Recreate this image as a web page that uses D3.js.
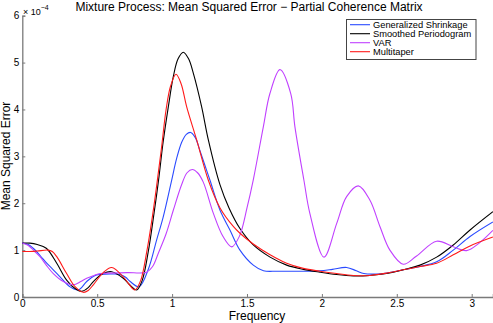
<!DOCTYPE html>
<meta charset="utf-8">
<html lang="en">
<head>
  <title>Mixture Process: Mean Squared Error</title>
  <script src="https://d3js.org/d3.v7.min.js"></script>
  <style>
    body { margin: 0; background: #fff; }
    text { font-family: "Liberation Sans", Arial, Helvetica, sans-serif; }
  </style>
</head>
<body>
<svg width="493" height="323"></svg>
<script>

// values are in units of 1e-4, pairs of [frequency, mse]
var shrinkage = [
  [0,1.15],[0.04,1.12],[0.073,1.04],[0.12,0.88],[0.163,0.72],[0.21,0.57],[0.252,0.43],
  [0.318,0.22],[0.374,0.15],[0.43,0.33],[0.48,0.45],[0.519,0.48],[0.6,0.49],[0.652,0.48],
  [0.69,0.42],[0.72,0.33],[0.78,0.22],[0.84,0.58],[0.897,1.22],[0.94,1.7],[0.997,2.49],
  [1.03,2.95],[1.064,3.3],[1.095,3.47],[1.124,3.51],[1.155,3.4],[1.186,3.12],[1.22,2.8],
  [1.253,2.49],[1.32,1.85],[1.386,1.43],[1.453,1.0],[1.542,0.68],[1.61,0.56],[1.7,0.55],
  [1.8,0.55],[1.9,0.55],[1.987,0.56],[2.07,0.59],[2.165,0.63],[2.23,0.56],[2.28,0.5],
  [2.37,0.49],[2.432,0.51],[2.543,0.58],[2.655,0.65],[2.766,0.75],[2.877,1.0],[2.989,1.29],
  [3.1416,1.6]
]

var periodogram = [
  [0,1.15],[0.05,1.15],[0.1,1.12],[0.16,1.04],[0.23,0.72],[0.296,0.36],[0.352,0.18],
  [0.396,0.12],[0.44,0.2],[0.474,0.33],[0.54,0.5],[0.597,0.54],[0.674,0.4],[0.72,0.25],
  [0.764,0.15],[0.8,0.35],[0.84,0.95],[0.88,1.8],[0.91,2.5],[0.94,3.3],[0.975,4.06],
  [1.008,4.7],[1.04,5.08],[1.075,5.22],[1.11,5.08],[1.142,4.77],[1.197,4.06],[1.242,3.35],
  [1.32,2.39],[1.38,1.9],[1.453,1.46],[1.542,1.11],[1.654,0.85],[1.765,0.68],[1.876,0.59],
  [1.987,0.53],[2.098,0.48],[2.21,0.45],[2.32,0.46],[2.432,0.5],[2.543,0.58],[2.655,0.68],
  [2.766,0.85],[2.877,1.11],[2.989,1.43],[3.1416,1.82]
]

var varModel = [
  [0,1.15],[0.04,1.1],[0.08,0.98],[0.118,0.86],[0.16,0.68],[0.207,0.5],[0.274,0.33],
  [0.341,0.26],[0.39,0.33],[0.43,0.4],[0.48,0.46],[0.519,0.5],[0.6,0.51],[0.7,0.52],
  [0.83,0.53],[0.87,0.65],[0.91,0.95],[0.96,1.35],[1.008,1.85],[1.064,2.4],[1.1,2.65],
  [1.135,2.72],[1.17,2.65],[1.208,2.45],[1.275,1.79],[1.34,1.29],[1.398,1.07],[1.45,1.3],
  [1.5,1.9],[1.542,2.5],[1.609,3.63],[1.653,4.34],[1.72,4.85],[1.792,4.34],[1.82,3.63],
  [1.88,2.49],[1.92,1.78],[2.014,0.85],[2.099,1.57],[2.165,2.14],[2.243,2.37],[2.32,2.07],
  [2.388,1.5],[2.454,1.0],[2.543,0.7],[2.63,0.87],[2.766,1.19],[2.877,1.07],[2.966,0.99],
  [3.05,1.15],[3.1416,1.42]
]

var multitaper = [
  [0,0.97],[0.05,0.97],[0.1,0.98],[0.17,1.0],[0.2,0.97],[0.23,0.86],[0.296,0.5],
  [0.352,0.22],[0.407,0.1],[0.44,0.14],[0.474,0.26],[0.54,0.52],[0.597,0.63],[0.674,0.43],
  [0.71,0.28],[0.752,0.15],[0.79,0.35],[0.83,0.95],[0.87,1.75],[0.9,2.45],[0.93,3.2],
  [0.96,4.0],[0.99,4.5],[1.026,4.75],[1.06,4.55],[1.097,4.06],[1.164,3.35],[1.242,2.49],
  [1.32,1.9],[1.41,1.5],[1.453,1.36],[1.542,1.13],[1.654,0.9],[1.765,0.72],[1.876,0.61],
  [1.987,0.55],[2.098,0.5],[2.21,0.46],[2.32,0.46],[2.432,0.51],[2.543,0.58],[2.655,0.65],
  [2.766,0.72],[2.877,0.9],[2.989,1.09],[3.1416,1.28]
]

var seriesNames = ["Generalized Shrinkage", "Smoothed Periodogram", "VAR", "Multitaper"]
var seriesColors = ["#2a4bff", "#000000", "#c040ff", "#ff1a1a"]
var xTicks = [0, 0.5, 1, 1.5, 2, 2.5, 3]
var yTicks = [0, 1, 2, 3, 4, 5, 6]

var allSeries = [shrinkage, periodogram, varModel, multitaper]

var svg = d3.select("svg")

var x = d3.scaleLinear().domain([0, Math.PI]).range([22.3, 492.9])
var y = d3.scaleLinear().domain([0, 6]).range([297, 15.7])

// axes (matlab style, ticks pointing inside, no box)
svg.append("g")
  .attr("transform", "translate(0,297)")
  .call(d3.axisBottom(x).tickValues(xTicks).tickSize(-3).tickPadding(3)
    .tickFormat(d3.format("")))
svg.append("g")
  .attr("transform", "translate(22.3,0)")
  .call(d3.axisLeft(y).tickValues(yTicks).tickSize(-3).tickPadding(3)
    .tickFormat(d3.format("d")))

svg.selectAll(".domain").attr("stroke", "#7a7a7a").attr("stroke-width", 1.3)
svg.selectAll(".tick line").attr("stroke", "#7a7a7a")
svg.selectAll(".tick text").attr("font-size", 10).attr("fill", "#000")
  .attr("font-family", "Liberation Sans, Arial, sans-serif")

// exponent label
var expo = svg.append("text").attr("x", 23).attr("y", 15).attr("font-size", 9)
expo.append("tspan").text("\u00d7 10")
expo.append("tspan").attr("dy", -5).attr("font-size", 7).text("\u22124")

var line = d3.line()
  .x(function (d) { return x(d[0]) })
  .y(function (d) { return y(d[1]) })
  .curve(d3.curveCatmullRom.alpha(0.5))

svg.append("g").selectAll("path")
  .data(allSeries)
  .enter().append("path")
    .attr("d", line)
    .attr("fill", "none")
    .attr("stroke", function (d, i) { return seriesColors[i] })
    .attr("stroke-width", 1.1)

// title and labels
svg.append("text").attr("x", 249).attr("y", 11).attr("text-anchor", "middle")
  .attr("font-size", 12).text("Mixture Process: Mean Squared Error \u2212 Partial Coherence Matrix")
svg.append("text").attr("x", 257).attr("y", 320).attr("text-anchor", "middle")
  .attr("font-size", 12).text("Frequency")
svg.append("text").attr("transform", "translate(10,156) rotate(-90)")
  .attr("text-anchor", "middle").attr("font-size", 12).text("Mean Squared Error")

// legend
var legend = svg.append("g")
legend.append("rect").attr("x", 346.5).attr("y", 19.5).attr("width", 129.5).attr("height", 40)
  .attr("fill", "#fff").attr("stroke", "#444").attr("stroke-width", 1)
var items = legend.selectAll("g.item")
  .data(seriesNames)
  .enter().append("g")
    .attr("transform", function (d, i) { return "translate(0," + (24.7 + i * 9) + ")" })
items.append("line").attr("x1", 350).attr("x2", 370)
  .attr("stroke", function (d, i) { return seriesColors[i] }).attr("stroke-width", 1.1)
items.append("text").attr("x", 373).attr("y", 3.3).attr("font-size", 9.3).text(function (d) { return d })

</script>
</body>
</html>
